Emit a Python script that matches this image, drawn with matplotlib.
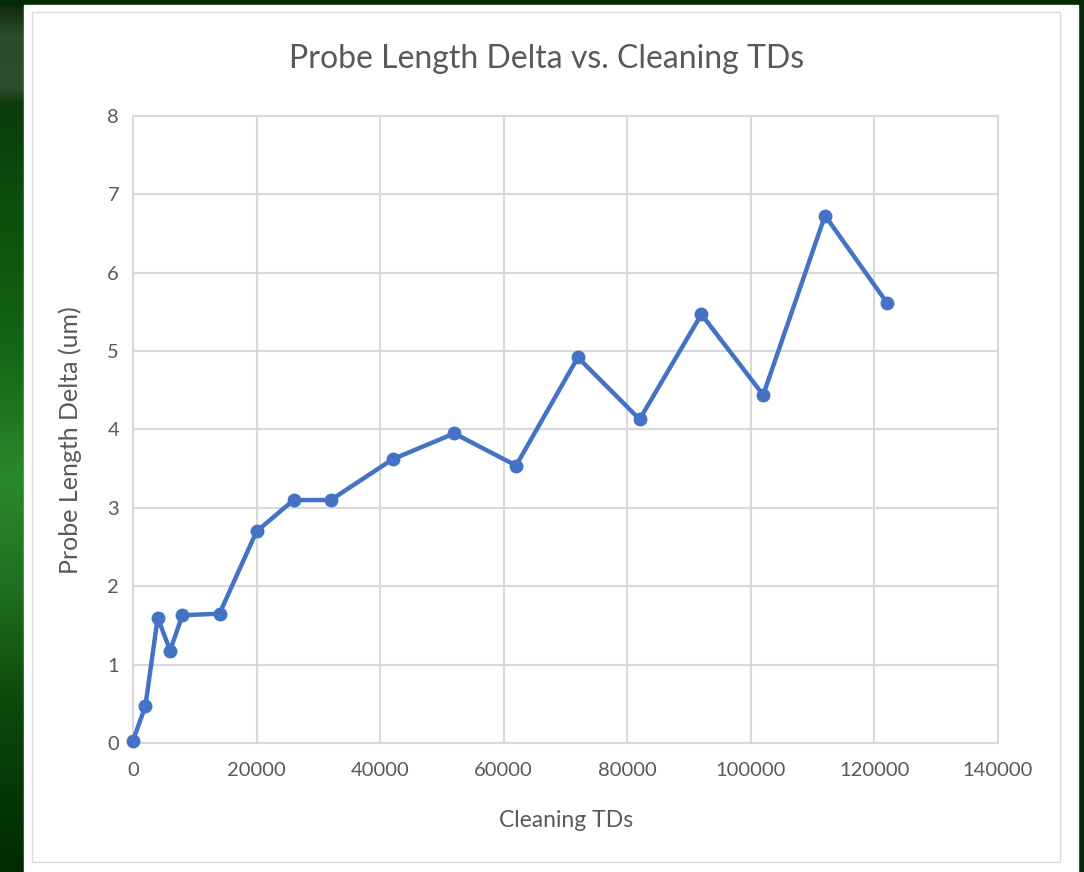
import numpy as np
import matplotlib.pyplot as plt
from matplotlib.patches import Rectangle
from matplotlib.colors import LinearSegmentedColormap

# measurements
cleaning_tds = [0, 2000, 4000, 6000, 8000, 14000, 20000, 26000, 32000, 42000,
                52000, 62000, 72000, 82000, 92000, 102000, 112000, 122000]
length_delta = [0.03, 0.47, 1.60, 1.18, 1.63, 1.65, 2.70, 3.10, 3.10, 3.62,
                3.95, 3.54, 4.92, 4.13, 5.47, 4.44, 6.73, 5.62]

x_ticks = np.arange(0, 140001, 20000)
y_ticks = np.arange(0, 9, 1)

W, H = 1084, 872
fig = plt.figure(figsize=(W / 100, H / 100), dpi=100)
fig.patch.set_facecolor('#012a05')

# slide background: green gradient down the left edge
bg = fig.add_axes([0, 0, 1, 1])
bg.set_xlim(0, W)
bg.set_ylim(H, 0)
bg.axis('off')
cmap = LinearSegmentedColormap.from_list('slide', [
    (0.0, '#0a260a'), (0.04, '#2c4a2c'), (0.10, '#2e4d2e'), (0.12, '#0c3a0c'),
    (0.20, '#0a4a0c'), (0.40, '#136614'), (0.55, '#2a8a2a'), (0.68, '#1f6f1f'),
    (0.80, '#0d4a0d'), (1.0, '#002a02')])
grad = np.linspace(0, 1, 256).reshape(-1, 1)
bg.imshow(grad, cmap=cmap, extent=[0, 24, H, 0], aspect='auto')
bg.add_patch(Rectangle((0, 0), W, 5, color='#012a05'))
bg.add_patch(Rectangle((1078, 0), 6, H, color='#012a05'))
bg.add_patch(Rectangle((24, 5), 1054, H - 5, color='white'))
bg.add_patch(Rectangle((32, 12), 1028, 850, fill=False, ec='#dcdcdc', lw=1))

ax = fig.add_axes([133 / W, (H - 743) / H, 865 / W, 627 / H])
ax.set_facecolor('white')
ax.plot(cleaning_tds, length_delta, color='#4472c4', lw=3.2,
        marker='o', ms=9, mec='#4472c4', mfc='#4472c4', zorder=3, clip_on=False)

ax.set_xlim(0, 140000)
ax.set_ylim(0, 8)
ax.set_xticks(x_ticks)
ax.set_yticks(y_ticks)
ax.grid(True, color='#d9d9d9', lw=1.5)
ax.set_axisbelow(True)
for s in ax.spines.values():
    s.set_color('#d9d9d9')
    s.set_linewidth(1.5)
ax.tick_params(length=0, colors='#595959', labelsize=14.5)
ax.tick_params(axis='x', pad=14)
ax.tick_params(axis='y', pad=10)
for lab in ax.get_xticklabels() + ax.get_yticklabels():
    lab.set_fontfamily('Lato')

fig.text(547 / W, 1 - 59 / H, 'Probe Length Delta vs. Cleaning TDs',
         ha='center', va='center', fontsize=23, color='#595959', family='Lato')
fig.text(566 / W, 1 - 820 / H, 'Cleaning TDs', ha='center', va='center',
         fontsize=16.5, color='#595959', family='Lato')
fig.text(70 / W, 1 - 440 / H, 'Probe Length Delta (um)', ha='center', va='center',
         rotation=90, fontsize=18, color='#595959', family='Lato')

fig.savefig('out.png', dpi=100, facecolor=fig.get_facecolor())
